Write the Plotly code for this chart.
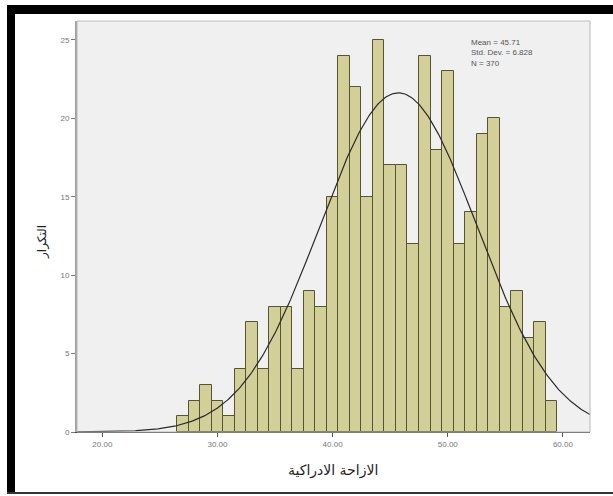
import numpy as np
import plotly.graph_objects as go

# Histogram data (bin centers, width 1)
bin_centers = [27, 28, 29, 30, 31, 32, 33, 34, 35, 36, 37, 38, 39, 40, 41, 42, 43,
               44, 45, 46, 47, 48, 49, 50, 51, 52, 53, 54, 55, 56, 57, 58, 59]
counts = [1, 2, 3, 2, 1, 4, 7, 4, 8, 8, 4, 9, 8, 15, 24, 22, 15,
          25, 17, 17, 12, 24, 18, 23, 12, 14, 19, 20, 8, 9, 6, 7, 2]
mean_val = 45.71
sd_val = 6.828
n_val = 370
bin_width = 1.0

x_ticks = [20, 30, 40, 50, 60]
y_ticks = [0, 5, 10, 15, 20, 25]
x_title = "الازاحة الادراكية"
y_title = "التكرار"

W, H = 613, 496
L, R, T, B = 77, 23, 21, 64
pw = W - L - R
ph = H - T - B

def px_x(p):
    return (p - L) / pw

def px_y(p):
    return (H - B - p) / ph

xr = [17.8, 62.35]
yr = [0, 26.2]

xs = np.linspace(xr[0], xr[1], 400)
ys = n_val * bin_width / (sd_val * np.sqrt(2 * np.pi)) * np.exp(-0.5 * ((xs - mean_val) / sd_val) ** 2)

fig = go.Figure()
fig.add_trace(go.Bar(
    x=bin_centers, y=counts, width=bin_width,
    marker=dict(color="#d3cf98", line=dict(color="#55552f", width=1)),
    showlegend=False, hoverinfo="x+y",
))
fig.add_trace(go.Scatter(
    x=xs, y=ys, mode="lines",
    line=dict(color="#2a2a2a", width=1.2),
    showlegend=False, hoverinfo="skip",
))

tick_font = dict(family="Liberation Sans, Arial, sans-serif", size=8, color="#777777")

fig.update_layout(
    width=W, height=H,
    margin=dict(l=L, r=R, t=T, b=B),
    paper_bgcolor="white",
    plot_bgcolor="#f0f0f0",
    bargap=0,
    xaxis=dict(
        range=xr, tickvals=x_ticks, tickformat=".2f",
        ticks="outside", ticklen=4, tickcolor="#555555",
        showgrid=False, zeroline=False,
        showline=True, linecolor="#444444", linewidth=1,
        tickfont=tick_font,
    ),
    yaxis=dict(
        range=yr, tickvals=y_ticks,
        ticks="outside", ticklen=4, tickcolor="#777777",
        showgrid=False, zeroline=False,
        showline=True, linecolor="#a0a0a0", linewidth=2,
        tickfont=tick_font,
    ),
    shapes=[
        # light plot frame (top / right)
        dict(type="rect", xref="paper", yref="paper", x0=0, x1=1, y0=0, y1=1,
             line=dict(color="#b8b8b8", width=1), layer="above"),
        # thick black left band
        dict(type="rect", xref="paper", yref="paper",
             x0=px_x(7), x1=px_x(15), y0=px_y(494), y1=px_y(5),
             fillcolor="black", line=dict(width=0)),
        # thick black top band
        dict(type="rect", xref="paper", yref="paper",
             x0=px_x(7), x1=px_x(613), y0=px_y(14), y1=px_y(5),
             fillcolor="black", line=dict(width=0)),
        # thin bottom line
        dict(type="line", xref="paper", yref="paper",
             x0=px_x(7), x1=px_x(613), y0=px_y(493), y1=px_y(493),
             line=dict(color="#333333", width=2)),
    ],
    annotations=[
        dict(text=f"Mean = {mean_val:.2f}<br>Std. Dev. = {sd_val:.3f}<br>N = {n_val}",
             xref="paper", yref="paper", x=px_x(469), y=px_y(36),
             xanchor="left", yanchor="top", align="left", showarrow=False,
             font=dict(family="Liberation Sans, Arial, sans-serif", size=8, color="#555555")),
        dict(text=x_title, xref="paper", yref="paper", x=px_x(333), y=px_y(470),
             xanchor="center", yanchor="middle", showarrow=False,
             font=dict(family="DejaVu Sans, sans-serif", size=14, color="#222222")),
        dict(text=y_title, xref="paper", yref="paper", x=px_x(42), y=px_y(242),
             xanchor="center", yanchor="middle", showarrow=False, textangle=-90,
             font=dict(family="DejaVu Sans, sans-serif", size=12, color="#222222")),
    ],
)

fig.write_html(
    "out.html",
    config={"displayModeBar": False},
    post_script="document.body.style.margin='0px';document.body.style.overflow='hidden';",
)
